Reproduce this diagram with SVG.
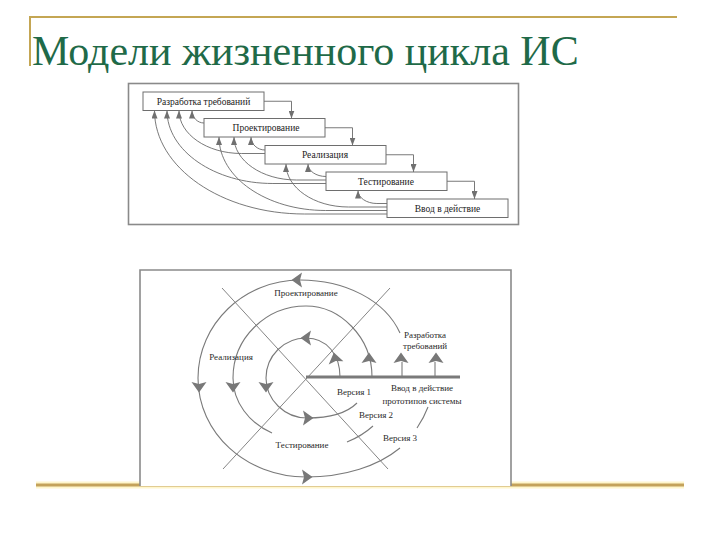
<svg xmlns="http://www.w3.org/2000/svg" width="720" height="540" viewBox="0 0 720 540">
<defs>
<style>
text{font-family:"Liberation Serif","DejaVu Serif",serif}
.title{font-size:42px;fill:#1f6a48}
.gold{stroke:#c4a653;fill:none}
.frame{fill:#fff;stroke:#8a8a8a;stroke-width:1.6}
.box{fill:#fff;stroke:#6e6e6e;stroke-width:1}
.bt{font-size:9.5px;fill:#222;text-anchor:middle}
.lt{font-size:9px;fill:#2a2a2a;text-anchor:middle}
.con{fill:none;stroke:#6a6a6a;stroke-width:0.9}
.arc{fill:none;stroke:#7a7a7a;stroke-width:1.1}
.diag{fill:none;stroke:#858585;stroke-width:1}
.axis{fill:none;stroke:#7a7a7a;stroke-width:3}
.tri{fill:#787878}
</style>
<marker id="ah" viewBox="0 0 8 6" refX="8" refY="3" markerWidth="8" markerHeight="6" orient="auto" markerUnits="userSpaceOnUse">
<path d="M0,0 L8,3 L0,6 Z" fill="#707070"/>
</marker>
<path id="tri" d="M0,-5.5 L7.5,5 L0,3 L-7.5,5 Z"/>
</defs>
<rect width="720" height="540" fill="#fff"/>

<g id="slide-lines">
<path class="gold" stroke-width="2" d="M30,66 V17 H677"/>
<line x1="36" y1="485" x2="684" y2="485" stroke="#fff6cc" stroke-width="7"/>
<line x1="36" y1="485" x2="684" y2="485" stroke="#c4a25a" stroke-width="3"/>
</g>
<text id="title" class="title" x="32" y="65" font-family="Liberation Serif, DejaVu Serif, serif">Модели жизненного цикла ИС</text>

<g id="waterfall">
<rect class="frame" x="128.5" y="83.5" width="390" height="141"/>
<g id="connectors" class="con" marker-end="url(#ah)">
<path d="M264,101.25 H291.5 V118.5"/>
<path d="M325,127.75 H352.5 V145.5"/>
<path d="M386,154.75 H413.5 V172"/>
<path d="M447,181.25 H474.5 V199"/>
<path d="M204,123 C197.4,123 192,117.4 192,110.5"/>
<path d="M265,153.5 H241.4 C207,153.5 179,134.2 179,110.5"/>
<path d="M326,183.5 H272.9 C214.4,183.5 167,150.8 167,110.5"/>
<path d="M387,214 H304.6 C221.7,214 154.5,167.6 154.5,110.5"/>
<path d="M265,150 C257.3,150 251,144.2 251,137"/>
<path d="M326,180 H296.4 C262,180 234,160.7 234,137"/>
<path d="M387,210.5 H325.6 C266.8,210.5 219,177.6 219,137"/>
<path d="M326,176.5 C316.1,176.5 308,170.9 308,164"/>
<path d="M387,207 H348.4 C314,207 286,187.7 286,164"/>
<path d="M387,203.5 H376.9 C366.5,203.5 358,197.7 358,190.5"/>
</g>
<g id="box1"><rect class="box" x="143" y="92" width="121" height="18.5"/><text class="bt" x="203.5" y="104.5" font-family="Liberation Serif, DejaVu Serif, serif">Разработка требований</text></g>
<g id="box2"><rect class="box" x="204" y="118.5" width="121" height="18.5"/><text class="bt" x="266" y="131" font-family="Liberation Serif, DejaVu Serif, serif">Проектирование</text></g>
<g id="box3"><rect class="box" x="265" y="145.5" width="121" height="18.5"/><text class="bt" x="325" y="158" font-family="Liberation Serif, DejaVu Serif, serif">Реализация</text></g>
<g id="box4"><rect class="box" x="326" y="172" width="121" height="18.5"/><text class="bt" x="386" y="184.5" font-family="Liberation Serif, DejaVu Serif, serif">Тестирование</text></g>
<g id="box5"><rect class="box" x="387" y="199" width="121" height="18.5"/><text class="bt" x="447.5" y="211.5" font-family="Liberation Serif, DejaVu Serif, serif">Ввод в действие</text></g>
</g>

<g id="spiral">
<path class="frame" d="M140,486 V270 H511 V486"/>
<line class="diag" x1="222" y1="288" x2="388" y2="469"/>
<line class="diag" x1="390" y1="288" x2="223" y2="469"/>
<line class="axis" x1="306" y1="377" x2="460" y2="377"/>
<g class="arc">
<path d="M340,377 C340,355 327,338 306,338 C284,338 266,356 266,378 C266,400 285,418 307,418 C328,418 346,414 357,403"/>
<path d="M372,377 C372,337 340,306 306,306 C266,306 233,338 233,378 C233,402 249,423 272,433"/>
<path d="M347,442 Q362,436 373,426"/>
<path d="M402,377 V362"/>
<path d="M400,333 C385,300 345,280 300,280 C244,280 198,324 198,378 C198,433 246,477 306,477 C345,477 378,466 400,448"/>
<path d="M417,428 C421,422 425,415 428,407"/>
<path d="M435,377 V362"/>
</g>
<g class="tri">
<use href="#tri" transform="translate(335,358) rotate(-12)"/>
<use href="#tri" transform="translate(369,358)"/>
<use href="#tri" transform="translate(401,358)"/>
<use href="#tri" transform="translate(436,358)"/>
<use href="#tri" transform="translate(297,280) rotate(-90)"/>
<use href="#tri" transform="translate(306,338) rotate(-90)"/>
<use href="#tri" transform="translate(199,387) rotate(180)"/>
<use href="#tri" transform="translate(233,387) rotate(180)"/>
<use href="#tri" transform="translate(266,387) rotate(180)"/>
<use href="#tri" transform="translate(307,477) rotate(90)"/>
<use href="#tri" transform="translate(308,418) rotate(90)"/>
</g>
<g font-family="Liberation Serif, DejaVu Serif, serif">
<text class="lt" x="306" y="296">Проектирование</text>
<text class="lt" x="231" y="360">Реализация</text>
<text class="lt" x="302" y="448">Тестирование</text>
<text class="lt" x="425" y="338">Разработка</text>
<text class="lt" x="425" y="349">требований</text>
<text class="lt" x="354" y="395">Версия 1</text>
<text class="lt" x="422" y="391">Ввод в действие</text>
<text class="lt" x="422" y="404">прототипов системы</text>
<text class="lt" x="376" y="418">Версия 2</text>
<text class="lt" x="400" y="441">Версия 3</text>
</g>
</g>
</svg>
